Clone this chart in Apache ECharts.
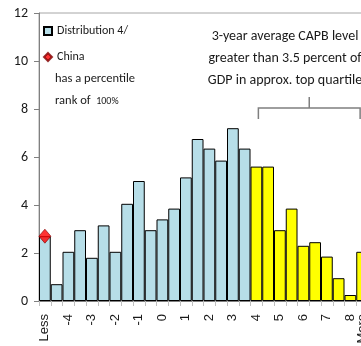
<!DOCTYPE html>
<html>
<head>
<meta charset="utf-8">
<script src="https://cdn.jsdelivr.net/npm/echarts@6/dist/echarts.min.js"></script>
<style>html,body{margin:0;padding:0;background:#fff;}#c{width:361px;height:346px;}</style>
</head>
<body>
<div id="c"></div>
<script>
var categories = ['Less','-4.5','-4','-3.5','-3','-2.5','-2','-1.5','-1','-0.5','0','0.5','1','1.5','2','2.5','3','3.5','4','4.5','5','5.5','6','6.5','7','7.5','8','More'];
var distribution = [2.7,0.7,2.05,2.95,1.8,3.15,2.05,4.05,5.0,2.95,3.4,3.85,5.15,6.75,6.35,5.85,7.2,6.35,5.6,5.6,2.95,3.85,2.3,2.45,1.85,0.95,0.25,2.05];
var topQuartileFrom = '4';
var china = [['Less', 2.7]];
var yTicks = {min: 0, max: 12, interval: 2};
var labelledCategories = ['Less','-4','-3','-2','-1','0','1','2','3','4','5','6','7','8','More'];

var BLUE = '#B7DEE8', YELLOW = '#FFFF00';
var CAL = 'Carlito, "Liberation Sans", sans-serif';
var startIdx = categories.indexOf(topQuartileFrom);
var endIdx = categories.length - 1;

function seg(size) {
  return {fontSize: size, fontFamily: CAL, fontWeight: 'normal', fill: '#1a1a1a', stroke: 'none', lineWidth: 0, lineHeight: 22};
}

var chart = echarts.init(document.getElementById('c'), null, {renderer: 'canvas'});
var option = {
  animation: false,
  backgroundColor: '#fff',
  grid: {left: 39, top: 13, width: 329, height: 288, outerBoundsMode: 'none', containLabel: false, show: true, borderColor: '#a6a6a6', borderWidth: 1, backgroundColor: 'transparent'},
  legend: {
    orient: 'vertical', left: 43, top: 24, padding: 0, itemGap: 12,
    itemWidth: 8, itemHeight: 8,
    textStyle: {fontFamily: CAL, fontSize: 12, color: '#1a1a1a', lineHeight: 14},
    data: [
      {name: 'Distribution 4/', icon: 'rect'},
      {name: 'China', icon: 'diamond'}
    ]
  },
  xAxis: {
    type: 'category', data: categories, boundaryGap: true,
    axisLine: {lineStyle: {color: '#808080', width: 1}},
    axisTick: {show: true, interval: 0, length: 5, lineStyle: {color: '#bfbfbf'}},
    axisLabel: {
      interval: 0, rotate: 90, margin: 13,
      fontFamily: '"Liberation Sans", Arial, sans-serif', fontSize: 13, color: '#1a1a1a',
      formatter: function (v) { return labelledCategories.indexOf(v) >= 0 ? v : ''; }
    }
  },
  yAxis: {
    type: 'value', min: yTicks.min, max: yTicks.max, interval: yTicks.interval,
    axisLine: {show: true, lineStyle: {color: '#808080'}},
    axisTick: {show: true, length: 5, lineStyle: {color: '#808080'}},
    splitLine: {show: false},
    axisLabel: {fontFamily: CAL, fontSize: 14, color: '#1a1a1a', margin: 11}
  },
  series: [
    {
      name: 'Distribution 4/', type: 'bar', barCategoryGap: '0%',
      itemStyle: {color: BLUE, borderColor: '#000', borderWidth: 1},
      data: distribution.map(function (v, i) {
        return i >= startIdx ? {value: v, itemStyle: {color: YELLOW}} : v;
      }),
      z: 2
    },
    {
      name: 'China', type: 'scatter', symbol: 'diamond', symbolSize: [12, 14],
      itemStyle: {color: '#FF0000', borderColor: '#800000', borderWidth: 0.8},
      data: china, z: 5
    }
  ],
  graphic: [
    {
      id: 'note', type: 'text', left: 55, top: 68,
      style: {
        text: '{n|has a percentile}\n{n|rank of  }{s|100%}',
        fontFamily: CAL, fontSize: 12, fontWeight: 'normal', fill: '#1a1a1a', lineHeight: 22,
        rich: {n: seg(12.5), s: seg(10)}
      }
    },
    {
      id: 'annot', type: 'text', x: 285, y: 25,
      style: {
        text: '{m|3-year average CAPB level}\n{m|greater than 3.5 percent of}\n{m|GDP in approx. top quartile}',
        fontFamily: CAL, fontSize: 14, fontWeight: 'normal', fill: '#1a1a1a', lineHeight: 22, align: 'center',
        rich: {m: seg(14)}
      }
    }
  ]
};
chart.setOption(option);

var xL = chart.convertToPixel({xAxisIndex: 0}, startIdx);
var xR = chart.convertToPixel({xAxisIndex: 0}, endIdx);
var yB = 108, yD = 119, yT = 97;
var xM = (xL + xR) / 2;
option.graphic.push(
  {id: 'bracketArm', type: 'polyline', z: 10, shape: {points: [[xL + 2, yD], [xL + 2, yB], [xR - 2, yB], [xR - 2, yD]]}, style: {stroke: '#7f7f7f', lineWidth: 1.5, fill: null}},
  {id: 'bracketTip', type: 'line', z: 10, shape: {x1: xM, y1: yT, x2: xM, y2: yB}, style: {stroke: '#7f7f7f', lineWidth: 1.5}}
);
chart.setOption({graphic: option.graphic});
</script>
</body>
</html>
